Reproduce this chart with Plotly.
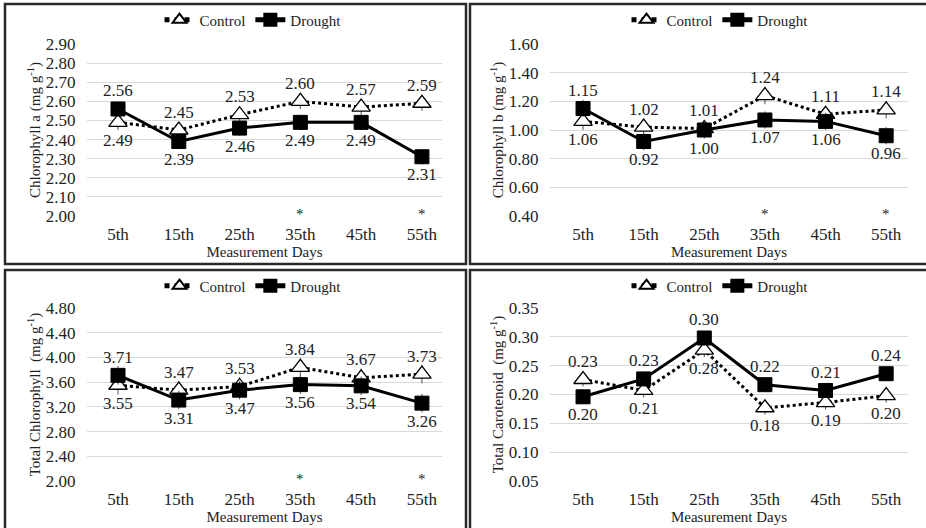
import plotly.graph_objects as go

days = ["5th", "15th", "25th", "35th", "45th", "55th"]

chla_control = [2.49, 2.45, 2.53, 2.60, 2.57, 2.59]
chla_drought = [2.56, 2.39, 2.46, 2.49, 2.49, 2.31]
chlb_control = [1.06, 1.02, 1.01, 1.24, 1.11, 1.14]
chlb_drought = [1.15, 0.92, 1.00, 1.07, 1.06, 0.96]
total_control = [3.55, 3.47, 3.53, 3.84, 3.67, 3.73]
total_drought = [3.71, 3.31, 3.47, 3.56, 3.54, 3.26]
carot_control = [0.226, 0.207, 0.277, 0.177, 0.186, 0.198]
carot_drought = [0.196, 0.227, 0.298, 0.217, 0.207, 0.236]

chla_err = [0.04, 0.04, 0.04, 0.04, 0.04, 0.04]
chlb_err = [0.06, 0.06, 0.06, 0.06, 0.06, 0.06]
total_err = [0.15, 0.15, 0.15, 0.15, 0.15, 0.15]
carot_err = [0.012, 0.012, 0.012, 0.012, 0.012, 0.012]

sig_days = ["35th", "55th"]

W, H = 926, 528
FONT = "Liberation Serif, Times New Roman, serif"
TXT = "#222222"
NUM = 17

panels = [
    dict(ctrl=chla_control, drt=chla_drought, err=chla_err,
         title="Chlorophyll a (mg g<sup>-1</sup>)", rng=[2.0, 2.9], dtick=0.1,
         px=(87, 442), py=(44, 216), xr=[-0.51, 5.33], stars=True,
         legx=253, frame=(5, 466, 4, 264)),
    dict(ctrl=chlb_control, drt=chlb_drought, err=chlb_err,
         title="Chlorophyll b (mg g<sup>-1</sup>)", rng=[0.4, 1.6], dtick=0.2,
         px=(550, 908), py=(44, 216), xr=[-0.545, 5.36], stars=True,
         legx=720, frame=(470, 935, 4, 264)),
    dict(ctrl=total_control, drt=total_drought, err=total_err,
         title="Total Chlorophyll  (mg g<sup>-1</sup>)", rng=[2.0, 4.8], dtick=0.4,
         px=(87, 442), py=(308, 481), xr=[-0.51, 5.33], stars=True,
         legx=253, frame=(5, 466, 270, 540)),
    dict(ctrl=carot_control, drt=carot_drought, err=carot_err,
         title="Total Carotenoid  (mg g<sup>-1</sup>)", rng=[0.05, 0.35], dtick=0.05,
         px=(550, 908), py=(308, 481), xr=[-0.545, 5.36], stars=False,
         legx=720, frame=(470, 935, 270, 540)),
]

fig = go.Figure()
annotations = []
shapes = []

for i, p in enumerate(panels):
    n = "" if i == 0 else str(i + 1)
    xa, ya = "x" + n, "y" + n
    leg = "legend" + n
    fig.add_trace(go.Scatter(
        x=days, y=p["ctrl"], name="Control", xaxis=xa, yaxis=ya, legend=leg,
        mode="lines+markers",
        line=dict(color="black", width=3, dash="dot"),
        marker=dict(symbol="triangle-up", size=16, color="white",
                    line=dict(color="black", width=1.3)),
        error_y=dict(type="data", array=p["err"], color="#555", thickness=1, width=0),
    ))
    fig.add_trace(go.Scatter(
        x=days, y=p["drt"], name="Drought", xaxis=xa, yaxis=ya, legend=leg,
        mode="lines+markers",
        line=dict(color="black", width=3),
        marker=dict(symbol="square", size=14, color="black",
                    line=dict(color="black", width=1)),
        error_y=dict(type="data", array=p["err"], color="#555", thickness=1, width=0),
    ))
    x0, x1 = p["px"]
    y0, y1 = p["py"]
    fig.update_layout({
        "xaxis" + n: dict(domain=[x0 / W, x1 / W], anchor=ya, type="category",
                          range=p["xr"], showgrid=False, zeroline=False, showline=False,
                          automargin=False,
                          ticks="outside", ticklen=3, tickcolor="rgba(0,0,0,0)",
                          tickfont=dict(family=FONT, size=NUM, color=TXT),
                          title=dict(text="Measurement Days", standoff=0,
                                     font=dict(family=FONT, size=15, color=TXT))),
        "yaxis" + n: dict(domain=[1 - y1 / H, 1 - y0 / H], anchor=xa,
                          range=p["rng"], dtick=p["dtick"], tick0=p["rng"][0],
                          tickformat=".2f", showgrid=True, gridcolor="#d9d9d9",
                          gridwidth=1, zeroline=False, showline=False,
                          automargin=False,
                          ticks="outside", ticklen=7, tickcolor="rgba(0,0,0,0)",
                          tickfont=dict(family=FONT, size=NUM, color=TXT),
                          title=dict(text=p["title"], standoff=1,
                                     font=dict(family=FONT, size=15, color=TXT))),
        leg: dict(orientation="h", x=p["legx"] / W, xanchor="center",
                  y=1 - (p["frame"][2] + 16) / H, yanchor="middle",
                  font=dict(family=FONT, size=15, color=TXT),
                  itemsizing="constant",
                  bgcolor="rgba(0,0,0,0)", tracegroupgap=0),
    })
    for d, c, r in zip(days, p["ctrl"], p["drt"]):
        hi, lo = (c, r) if c >= r else (r, c)
        annotations.append(dict(x=d, y=hi, xref=xa, yref=ya, text=f"{hi:.2f}",
                                showarrow=False, yshift=18,
                                font=dict(family=FONT, size=NUM, color=TXT)))
        annotations.append(dict(x=d, y=lo, xref=xa, yref=ya, text=f"{lo:.2f}",
                                showarrow=False, yshift=-18,
                                font=dict(family=FONT, size=NUM, color=TXT)))
    if p["stars"]:
        for d in sig_days:
            annotations.append(dict(x=d, y=p["rng"][0], xref=xa, yref=ya, text="*",
                                    showarrow=False, yshift=2,
                                    font=dict(family=FONT, size=15, color=TXT)))
    fx0, fx1, fy0, fy1 = p["frame"]
    shapes.append(dict(type="rect", xref="paper", yref="paper",
                       x0=fx0 / W, x1=fx1 / W, y0=1 - fy1 / H, y1=1 - fy0 / H,
                       line=dict(color="#2a2a2a", width=2.5)))

fig.update_layout(
    template="none",
    width=W, height=H, margin=dict(l=0, r=0, t=0, b=0, pad=0, autoexpand=False),
    paper_bgcolor="white", plot_bgcolor="white",
    annotations=annotations, shapes=shapes,
    font=dict(family=FONT, size=15, color=TXT),
)

fig.write_html("out.html")
